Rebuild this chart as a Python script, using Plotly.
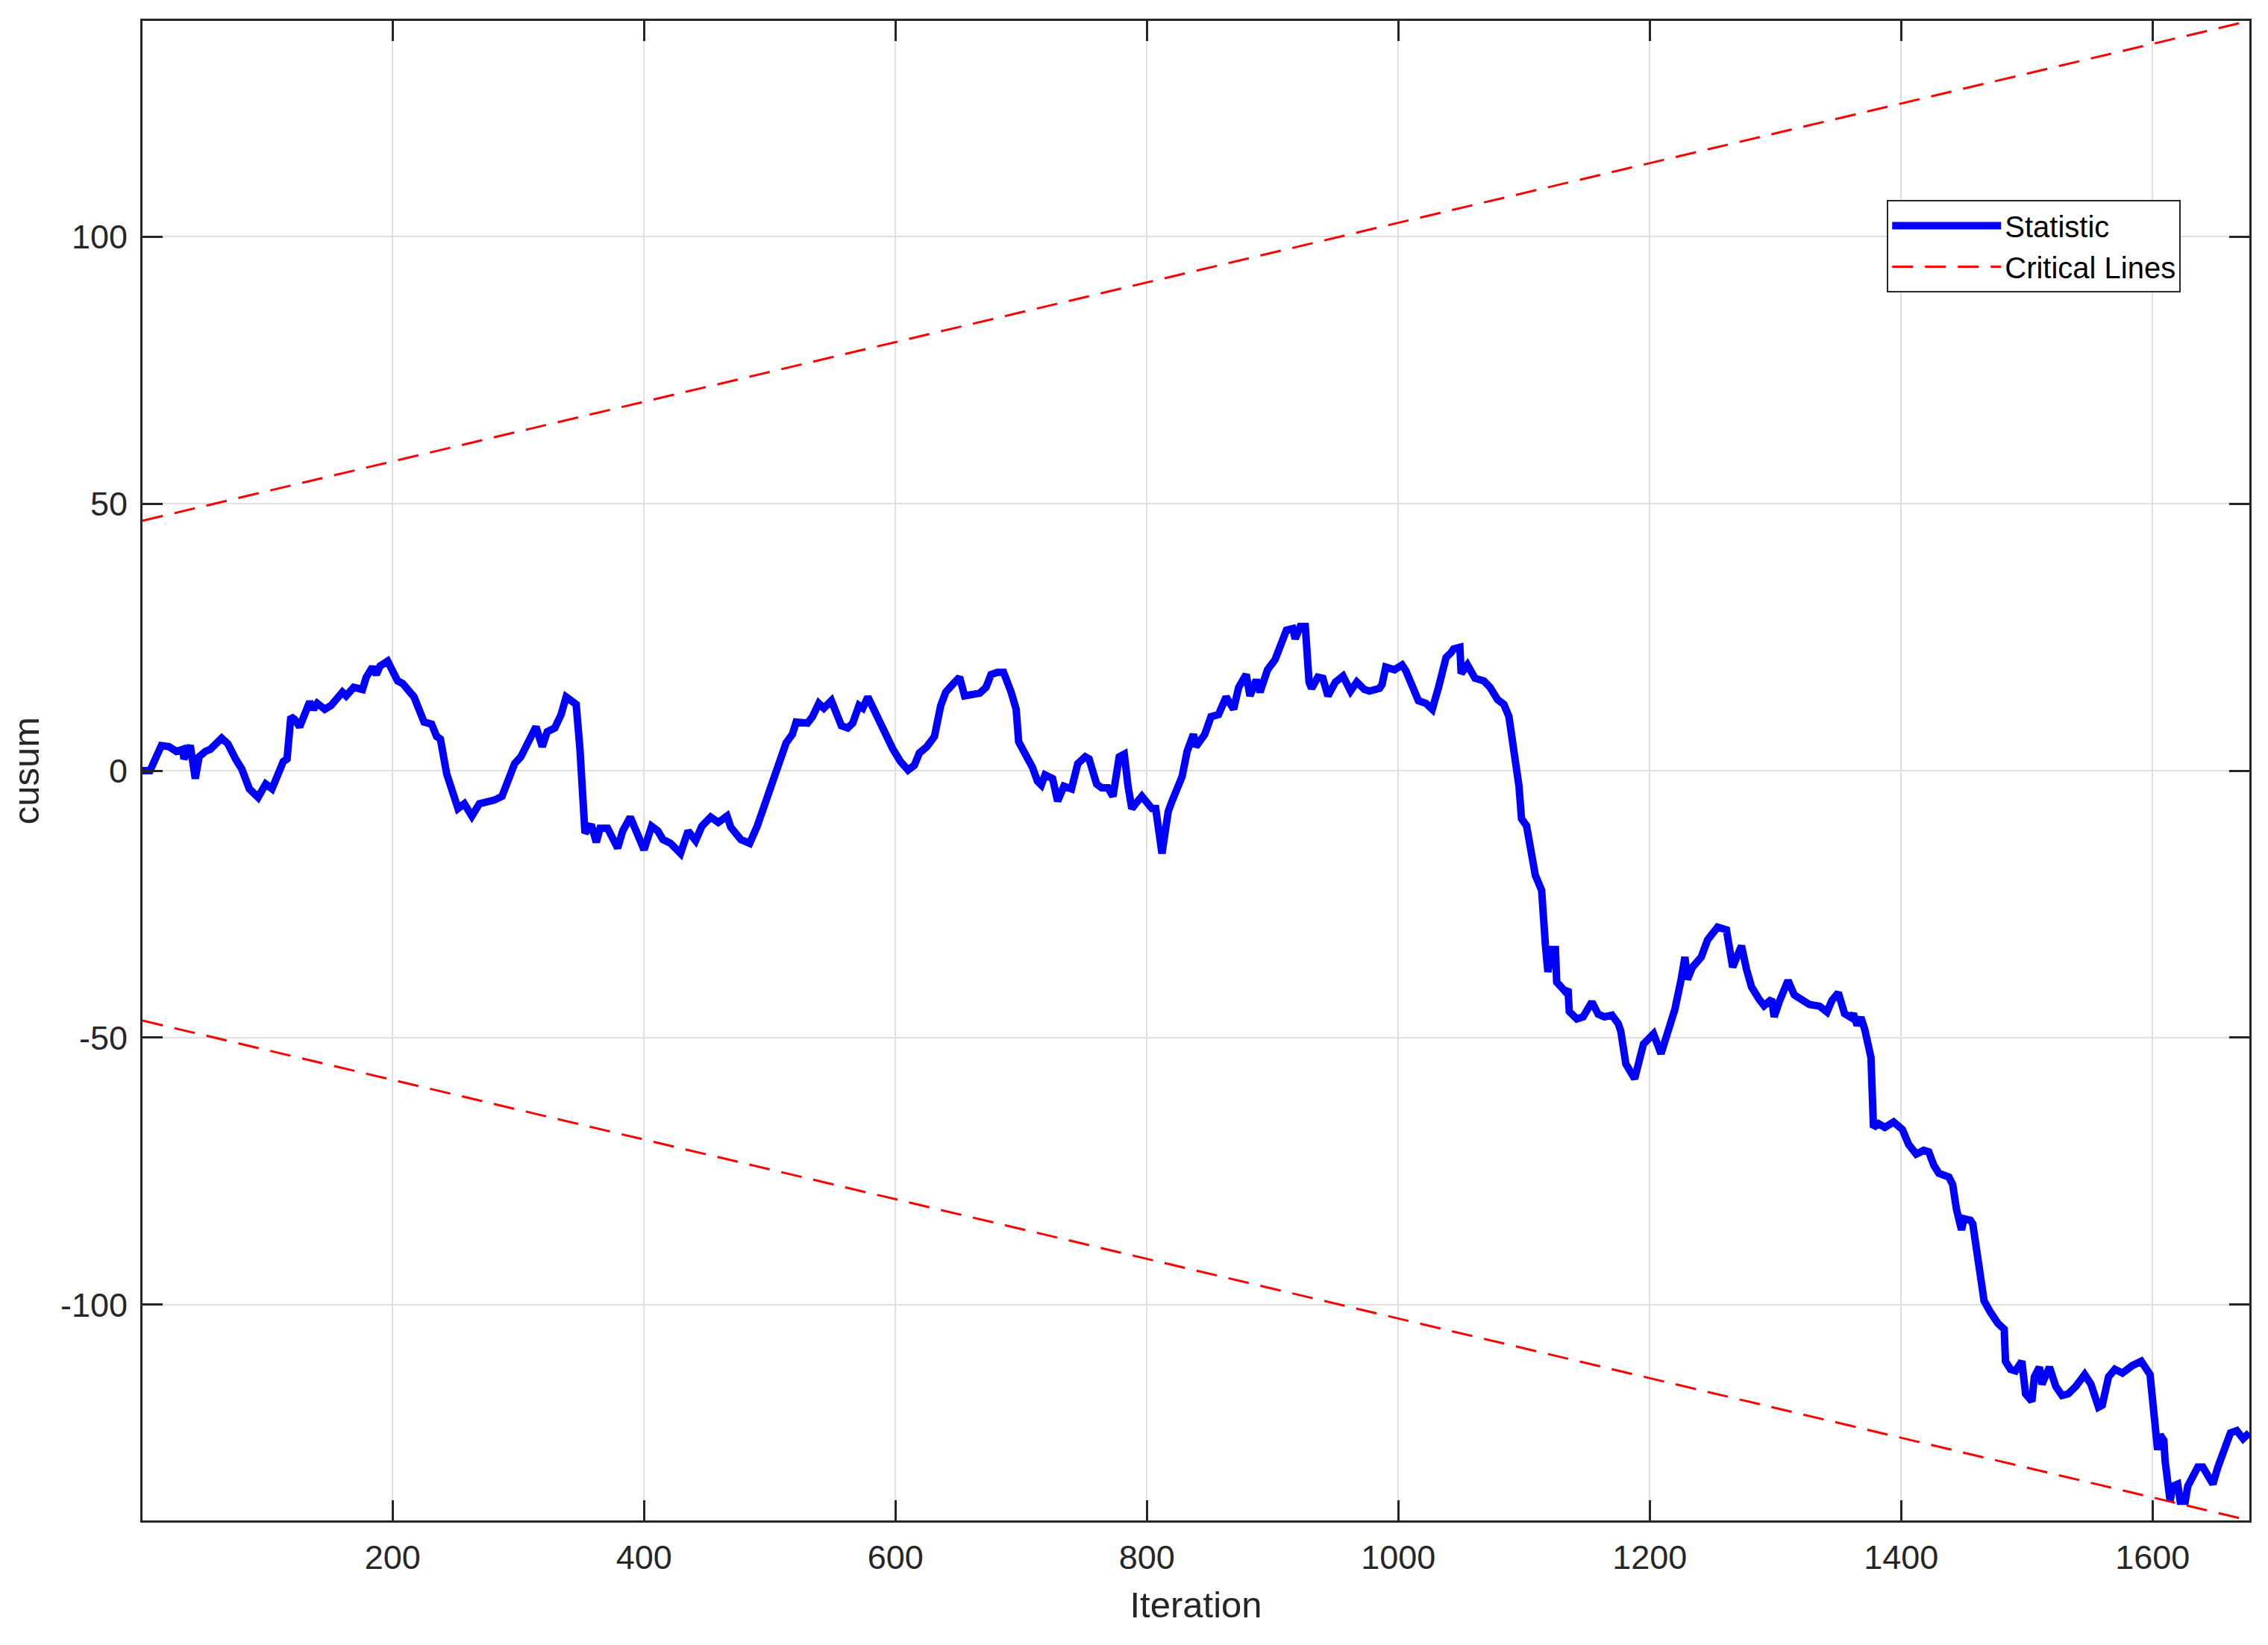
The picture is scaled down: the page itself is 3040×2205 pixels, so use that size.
import plotly.graph_objects as go

# ---- Data ----
iteration = [
    1, 7, 16, 22, 28, 33, 34, 39, 43, 46, 51, 55, 64, 69, 75, 80, 86, 93, 99, 104,
    113, 116, 119, 122, 126, 130, 134, 137, 140, 146, 151, 160, 163, 169, 176, 179, 184, 187, 190, 196,
    204, 208, 213, 217, 225, 231, 235, 238, 243, 248, 252, 257, 263, 269, 275, 281, 287, 293, 297, 302,
    308, 314, 319, 323, 329, 334, 338, 343, 346, 349, 353, 358, 362, 365, 371, 379, 383, 389, 394, 400,
    406, 411, 415, 421, 429, 435, 441, 446, 453,
    459, 466, 469, 477, 484, 490, 498, 506, 510, 513, 518, 521, 530, 534, 539, 543, 549, 557, 562, 566,
    571, 574, 578, 586, 590, 598, 604, 610, 615, 619, 625, 631, 636, 640, 646, 651, 655, 661, 667, 672,
    676, 681, 686, 692, 696, 698, 702, 709, 713, 716, 719, 725, 729, 734, 740, 745, 751, 754, 760, 764,
    769, 773, 778, 782, 785, 788, 791, 796, 804, 807, 812, 817, 820, 828, 832, 837, 839, 843, 846, 851,
    857, 863, 869, 873, 879, 882, 887, 890, 896,
    902, 906, 911, 916, 918, 922, 926, 929, 931, 936, 940, 944, 948, 950, 956, 962, 967, 973, 977, 985,
    987, 990, 997, 1003, 1006, 1011, 1016, 1022, 1027, 1032, 1038, 1042, 1044, 1049, 1050, 1055, 1061,
    1068, 1073, 1079, 1084, 1088, 1092, 1096, 1098,
    1102, 1109, 1114, 1117, 1119, 1122, 1125, 1126, 1130, 1133, 1135, 1136, 1142, 1147, 1154, 1159, 1164,
    1170, 1175, 1177, 1181, 1188, 1195, 1197, 1203, 1209, 1213, 1216, 1220, 1225, 1228, 1230, 1234, 1241,
    1246, 1254, 1261, 1266, 1273, 1277, 1281, 1287, 1291, 1297, 1299, 1303, 1310,
    1315, 1319, 1327, 1335, 1341, 1345, 1350, 1355, 1360, 1362, 1365, 1368, 1371, 1376, 1378, 1382, 1387,
    1394, 1401, 1406, 1412, 1418, 1422, 1426, 1430, 1438, 1441, 1444, 1448, 1450, 1455, 1457, 1459, 1462,
    1466, 1471, 1477, 1482, 1483, 1487, 1491, 1496, 1499, 1504, 1506, 1510, 1512, 1518, 1523, 1528, 1533,
    1539, 1546, 1551, 1557, 1560, 1565, 1570, 1576, 1584, 1591, 1598, 1601, 1604, 1606, 1609, 1610, 1614,
    1616, 1620, 1622, 1626, 1628, 1636, 1640, 1648, 1652, 1657, 1662, 1667, 1672, 1677,
]

statistic = [
    0, 0, 4.7, 4.5, 3.6, 4, 2.2, 4.7, -1.5, 2.6, 3.6, 4, 6.1, 5, 2.2, 0.3, -3.4, -5, -2.5, -3.4,
    1.7, 2.2, 10.1, 9.6, 8.2, 11, 12.9, 11.5, 12.6, 11.5, 12.2, 14.7, 14, 15.6, 15.2, 17.5, 19.4, 18, 19.6, 20.5,
    16.8, 16.3, 14.7, 13.8, 9.1, 8.7, 6.4, 5.9, -0.6, -4.3, -7.1, -6.2, -8.5, -6.2, -5.9, -5.5, -4.8, -1.5, 1.3, 2.6,
    5.4, 8.2, 4.5, 7.3, 8, 10.5, 13.8, 12.9, 12.4, 4, -11.7, -10.1, -13.4, -10.8, -10.8, -14.5, -11.3, -8.7, -11.7, -14.8,
    -10.4, -11.3, -12.9, -13.6, -15.5, -11.3, -13.1, -10.4, -8.7,
    -9.7, -8.5, -10.6, -12.9, -13.6, -10.4, -5.2, 0.8, 2.6, 5.2, 6.8, 9.1, 8.9, 10.1, 12.6, 11.7, 13.1, 8.4, 8, 8.9,
    12.2, 11.7, 13.8, 9.6, 8.2, 4, 1.7, 0.1, 1, 3.3, 4.5, 6.4, 12.2, 14.7, 16.3, 17.5, 14, 14.3, 14.5, 15.6,
    18, 18.4, 18.4, 14.7, 11.5, 5.4, 3.6, 0.6, -2, -2.7, -0.8, -1.5, -5.7, -2.9, -3.4, 1.3, 2.6, 2.2, -2.5, -3.2,
    -3.2, -4.8, 2.6, 3.1, -2.9, -7.1, -6.2, -4.8, -7.1, -7.1, -15.5, -7.6, -5.7, -1.1, 3.6, 6.8, 4.5, 5.9, 6.8, 10.1,
    10.5, 13.8, 11.5, 15.6, 18, 14, 17, 14.7, 18.9,
    20.8, 23.5, 26.3, 26.6, 24.7, 27, 27, 16.6, 15.4, 17.5, 17.3, 14, 16.1, 16.6, 17.7, 14.9, 16.6, 15.2, 14.9, 15.4,
    16.1, 19.4, 18.9, 19.8, 18.7, 16.1, 13.1, 12.6, 11.5, 15.6, 21.2, 22.1, 22.8, 23.1, 18.2, 19.8, 17.3,
    16.8, 15.6, 13.3, 12.4, 10.1, 4, -2.9, -9,
    -10.3, -19.6, -22.4, -32.6, -37.7, -33.5, -33.5, -39.6, -40.9, -41.4, -40.9, -45.1, -46.5, -46.1, -43.3, -45.6, -46.1,
    -45.8, -47.4, -48.8, -54.9, -57.7, -51.2, -50.7, -49.3, -53, -50.2, -47.9, -44.7, -39.1, -34.9, -39.1, -36.8, -34.9,
    -31.7, -29.3, -29.8, -36.8, -32.8, -37.2, -40.5, -42.8, -44, -42.8, -46.1, -43.3, -39.3,
    -42, -42.7, -43.8, -44.1, -45.2, -43, -41.6, -45.5, -46.2, -45.5, -47.7, -46.2, -48.4, -53.7, -66.8, -66.1, -66.8,
    -65.8, -67.2, -70, -71.8, -71.1, -71.4, -73.9, -75.4, -76.1, -77.5, -82.1, -86, -83.9, -84.2, -84.9, -88.6, -92.9,
    -99.3, -101.4, -103.5, -104.6, -110.6, -112.1, -112.4, -110.6, -116.7, -118.1, -113.5, -111.7, -114.9, -111.7, -115.3, -117, -116.7,
    -115.3, -113.1, -114.9, -119.2, -118.8, -113.5, -112.1, -112.8, -111.4, -110.6, -113.1, -119.2, -127.2, -124.4, -125.4, -129.3, -136.8,
    -134, -133.6, -136.8, -136.8, -134, -130.4, -130.4, -133.6, -130.4, -127.6, -124, -123.6, -125.1, -124,
]

crit_x = [1, 1677]
crit_upper = [46.8, 140.4]
crit_lower = [-46.8, -140.4]

x_ticks = [200, 400, 600, 800, 1000, 1200, 1400, 1600]
y_ticks = [-100, -50, 0, 50, 100]

AX = "#262626"
GRID = "#dfdfdf"
FONT = "Liberation Sans, Arial, Helvetica, sans-serif"

fig = go.Figure()

fig.add_trace(go.Scatter(
    x=iteration, y=statistic, mode="lines", name="Statistic",
    line=dict(color="#0000ff", width=10),
))

fig.add_trace(go.Scatter(
    x=crit_x + [None] + crit_x, y=crit_upper + [None] + crit_lower,
    mode="lines", name="Critical Lines",
    line=dict(color="#ff0000", width=3, dash="28px,16px"),
))

axis_common = dict(
    showgrid=True, gridcolor=GRID, gridwidth=2,
    zeroline=False, showline=True, linecolor=AX, linewidth=3,
    mirror="allticks", ticks="inside", ticklen=27, tickwidth=3, tickcolor=AX,
    tickfont=dict(family=FONT, size=45, color=AX),
)

fig.update_xaxes(
    range=[crit_x[0], crit_x[1]], tickvals=x_ticks,
    ticktext=[str(v) for v in x_ticks],
    ticklabelstandoff=8,
    title=dict(text="Iteration", font=dict(family=FONT, size=49, color=AX), standoff=22),
    **axis_common,
)
fig.update_yaxes(
    range=[crit_lower[1], crit_upper[1]], tickvals=y_ticks,
    ticktext=[str(v) for v in y_ticks],
    ticklabelstandoff=8,
    title=dict(text="cusum", font=dict(family=FONT, size=49, color=AX), standoff=14),
    **axis_common,
)

fig.update_layout(
    width=3032, height=2197,
    margin=dict(l=183, r=25, t=20, b=167),
    paper_bgcolor="white", plot_bgcolor="white",
    font=dict(family=FONT, size=45, color=AX),
    legend=dict(
        x=0.828, y=0.8806, xanchor="left", yanchor="top",
        bgcolor="white", bordercolor=AX, borderwidth=2,
        font=dict(family=FONT, size=40, color="#000000"),
        itemwidth=146, tracegroupgap=0,
    ),
)

fig.write_html("out.html")
